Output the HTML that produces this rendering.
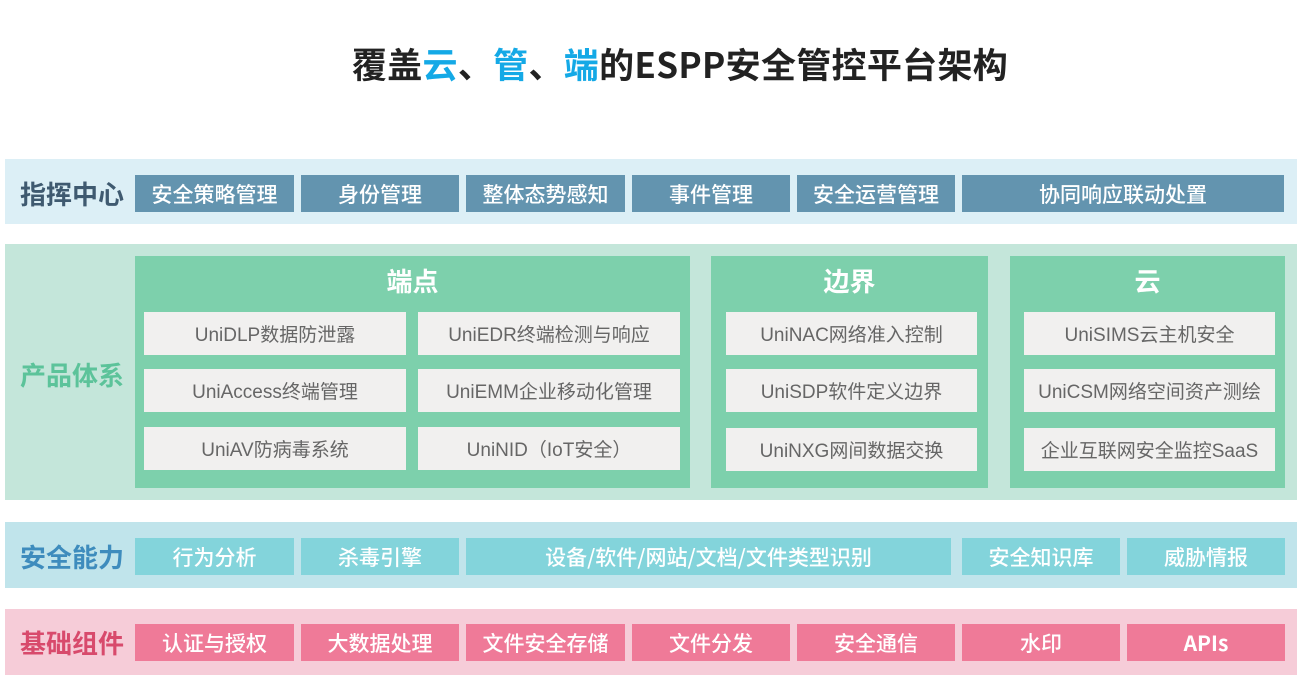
<!DOCTYPE html>
<html><head><meta charset="utf-8"><style>
body{margin:0;width:1306px;height:683px;background:#fff;position:relative;overflow:hidden;font-family:"Liberation Sans","Noto Sans CJK SC",sans-serif}
div{position:absolute;box-sizing:border-box}
.c{display:flex;align-items:center;justify-content:center;white-space:nowrap}
.t{left:27px;width:1306px;top:36px;height:56px;font-size:35px;font-weight:bold;color:#222;text-align:center;line-height:56px;font-family:"Noto Sans CJK SC",sans-serif;letter-spacing:0.3px}
.t span{color:#14a9e6}
.band{left:5px;width:1292px}
.lab{left:14px;width:116px;font-size:26px;font-family:"Noto Sans CJK SC",sans-serif;font-weight:bold}
.b{color:#fff;font-size:21px;font-family:"Noto Sans CJK SC",sans-serif;font-weight:500}
.p{background:#7dd0ac}
.ph{color:#fff;font-size:26px;font-family:"Noto Sans CJK SC",sans-serif;font-weight:bold}
.it{background:#f1f0ef;color:#666;font-size:19px;font-family:"Liberation Sans","Noto Sans CJK SC",sans-serif}
</style></head><body>
<div class="t">覆盖<span>云</span>、<span>管</span>、<span>端</span>的ESPP安全管控平台架构</div>

<div class="band" style="top:159px;height:65px;background:#dceff6"></div>
<div class="lab c" style="top:175px;height:37px;color:#3f5a70">指挥中心</div>
<div class="b c" style="background:#6394af;left:135px;width:159px;top:175px;height:37px">安全策略管理</div>
<div class="b c" style="background:#6394af;left:301px;width:158px;top:175px;height:37px">身份管理</div>
<div class="b c" style="background:#6394af;left:466px;width:159px;top:175px;height:37px">整体态势感知</div>
<div class="b c" style="background:#6394af;left:632px;width:158px;top:175px;height:37px">事件管理</div>
<div class="b c" style="background:#6394af;left:797px;width:158px;top:175px;height:37px">安全运营管理</div>
<div class="b c" style="background:#6394af;left:962px;width:322px;top:175px;height:37px">协同响应联动处置</div>

<div class="band" style="top:244px;height:256px;background:#c4e6da"></div>
<div class="lab c" style="top:352px;height:44px;color:#5cc39a">产品体系</div>
<div class="p" style="left:135px;width:555px;top:256px;height:232px"></div>
<div class="p" style="left:711px;width:277px;top:256px;height:232px"></div>
<div class="p" style="left:1010px;width:275px;top:256px;height:232px"></div>
<div class="ph c" style="left:135px;width:555px;top:262px;height:36px">端点</div>
<div class="ph c" style="left:711px;width:277px;top:262px;height:36px">边界</div>
<div class="ph c" style="left:1010px;width:275px;top:262px;height:36px">云</div>
<div class="it c" style="left:144px;width:262px;top:312px;height:43px">UniDLP数据防泄露</div>
<div class="it c" style="left:144px;width:262px;top:369px;height:43px">UniAccess终端管理</div>
<div class="it c" style="left:144px;width:262px;top:427px;height:43px">UniAV防病毒系统</div>
<div class="it c" style="left:418px;width:262px;top:312px;height:43px">UniEDR终端检测与响应</div>
<div class="it c" style="left:418px;width:262px;top:369px;height:43px">UniEMM企业移动化管理</div>
<div class="it c" style="left:418px;width:262px;top:427px;height:43px">UniNID（IoT安全）</div>
<div class="it c" style="left:726px;width:251px;top:312px;height:43px">UniNAC网络准入控制</div>
<div class="it c" style="left:726px;width:251px;top:369px;height:43px">UniSDP软件定义边界</div>
<div class="it c" style="left:726px;width:251px;top:428px;height:43px">UniNXG网间数据交换</div>
<div class="it c" style="left:1024px;width:251px;top:312px;height:43px">UniSIMS云主机安全</div>
<div class="it c" style="left:1024px;width:251px;top:369px;height:43px">UniCSM网络空间资产测绘</div>
<div class="it c" style="left:1024px;width:251px;top:428px;height:43px">企业互联网安全监控SaaS</div>

<div class="band" style="top:522px;height:66px;background:#c0e4eb"></div>
<div class="lab c" style="top:538px;height:37px;color:#3e8cbd">安全能力</div>
<div class="b c" style="background:#83d4db;left:135px;width:159px;top:538px;height:37px">行为分析</div>
<div class="b c" style="background:#83d4db;left:301px;width:158px;top:538px;height:37px">杀毒引擎</div>
<div class="b c" style="background:#83d4db;left:466px;width:485px;top:538px;height:37px">设备/软件/网站/文档/文件类型识别</div>
<div class="b c" style="background:#83d4db;left:962px;width:158px;top:538px;height:37px">安全知识库</div>
<div class="b c" style="background:#83d4db;left:1127px;width:158px;top:538px;height:37px">威胁情报</div>

<div class="band" style="top:609px;height:66px;background:#f6ccd8"></div>
<div class="lab c" style="top:624px;height:37px;color:#d84a6c">基础组件</div>
<div class="b c" style="background:#ef7a98;left:135px;width:159px;top:624px;height:37px">认证与授权</div>
<div class="b c" style="background:#ef7a98;left:301px;width:158px;top:624px;height:37px">大数据处理</div>
<div class="b c" style="background:#ef7a98;left:466px;width:159px;top:624px;height:37px">文件安全存储</div>
<div class="b c" style="background:#ef7a98;left:632px;width:158px;top:624px;height:37px">文件分发</div>
<div class="b c" style="background:#ef7a98;left:797px;width:158px;top:624px;height:37px">安全通信</div>
<div class="b c" style="background:#ef7a98;left:962px;width:158px;top:624px;height:37px">水印</div>
<div class="b c" style="background:#ef7a98;left:1127px;width:158px;top:624px;height:37px;font-weight:bold">APIs</div>
</body></html>
